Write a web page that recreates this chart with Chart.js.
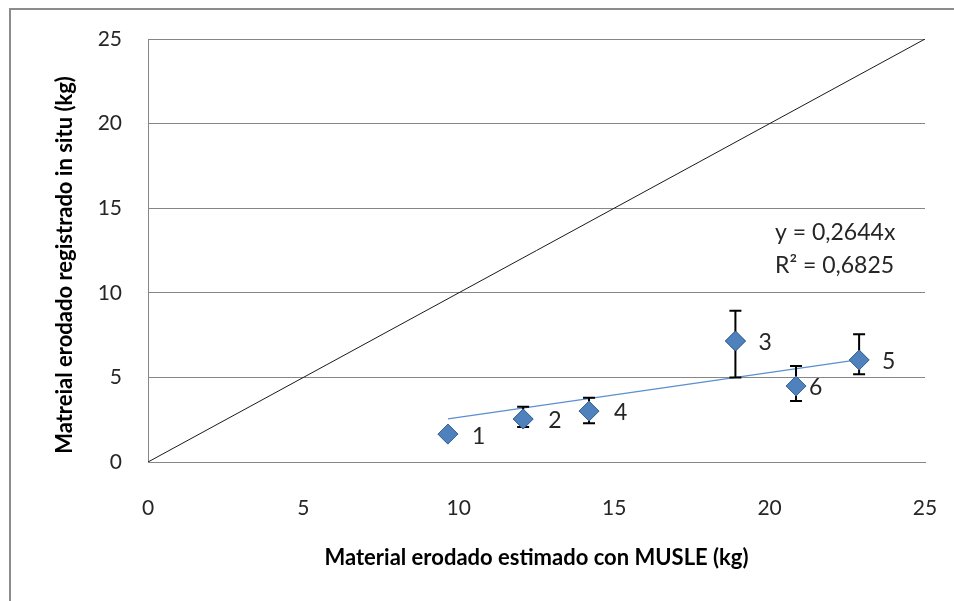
<!DOCTYPE html>
<html>
<head>
<meta charset="utf-8">
<script src="https://cdn.jsdelivr.net/npm/chart.js@4.4.1/dist/chart.umd.min.js"></script>
<style>
  html, body { margin: 0; padding: 0; background: #fff; }
  #wrap { position: relative; width: 954px; height: 601px; overflow: hidden; }
  #frame { position: absolute; left: 9px; top: 8px; width: 1000px; height: 700px; border: 2px solid #8c8c8c; box-sizing: border-box; pointer-events: none; }
  canvas { position: absolute; left: 0; top: 0; }
</style>
</head>
<body>
<div id="wrap">
  <canvas id="c" width="954" height="601"></canvas>
  <div id="frame"></div>
</div>
<script>
// Data
const pointLabels = ["1", "2", "3", "4", "5", "6"];
const musleX      = [9.65, 12.07, 18.9, 14.19, 22.88, 20.85];
const inSituY     = [1.65, 2.54, 7.15, 3.01, 6.03, 4.49];
const errLow      = [1.65, 2.07, 5.0, 2.29, 5.18, 3.6];
const errHigh     = [1.65, 3.27, 8.94, 3.8, 7.55, 5.67];
const trendX      = [9.65, 22.88];
const trendY      = [2.55, 6.05];
const diagX       = [0, 25];
const diagY       = [0, 25];
const axisTicks   = [0, 5, 10, 15, 20, 25];
const equationText = ["y = 0,2644x", "R\u00B2 = 0,6825"];
const xTitle = "Material erodado estimado con MUSLE (kg)";
const yTitle = "Matreial erodado registrado in situ (kg)";

const FONT = "Lato, 'Open Sans', sans-serif";

const toXY = (xs, ys) => xs.map((x, i) => ({ x: x, y: ys[i] }));

const overlay = {
  id: 'overlay',
  afterDatasetsDraw(chart) {
    const ctx = chart.ctx;
    const xs = chart.scales.x, ys = chart.scales.y;
    ctx.save();
    ctx.strokeStyle = '#000';
    ctx.lineWidth = 2;
    musleX.forEach((x, i) => {
      if (errHigh[i] - errLow[i] <= 0) return;
      const px = xs.getPixelForValue(x);
      const pLo = ys.getPixelForValue(errLow[i]);
      const pHi = ys.getPixelForValue(errHigh[i]);
      ctx.beginPath();
      ctx.moveTo(px, pLo); ctx.lineTo(px, pHi);
      ctx.moveTo(px - 6, pLo); ctx.lineTo(px + 6, pLo);
      ctx.moveTo(px - 6, pHi); ctx.lineTo(px + 6, pHi);
      ctx.stroke();
    });
    ctx.restore();
  },
  afterDraw(chart) {
    const ctx = chart.ctx;
    const xs = chart.scales.x, ys = chart.scales.y;
    const meta = chart.getDatasetMeta(2);
    meta.data.forEach(el => el.draw(ctx, chart.chartArea));
    ctx.save();
    ctx.fillStyle = '#262626';
    ctx.font = "23px " + FONT;
    ctx.textBaseline = 'middle';
    ctx.textAlign = 'left';
    const offs = [24, 25, 23, 25, 23, 13];
    musleX.forEach((x, i) => {
      const px = xs.getPixelForValue(x);
      const py = ys.getPixelForValue(inSituY[i]);
      ctx.fillText(pointLabels[i], px + offs[i], py + 2);
    });
    ctx.fillText(equationText[0], 775, 233);
    ctx.fillText(equationText[1], 775, 266);
    ctx.fillStyle = '#000';
    ctx.font = "bold 22px " + FONT;
    ctx.textAlign = 'center';
    ctx.fillText(xTitle, (chart.chartArea.left + chart.chartArea.right) / 2, 558);
    ctx.translate(65, 265);
    ctx.rotate(-Math.PI / 2);
    ctx.fillText(yTitle, 0, 0);
    ctx.restore();
  }
};

new Chart(document.getElementById('c'), {
  type: 'scatter',
  data: {
    datasets: [
      {
        label: '1:1',
        data: toXY(diagX, diagY),
        showLine: true,
        borderColor: '#1a1a1a',
        borderWidth: 1,
        pointRadius: 0,
        fill: false
      },
      {
        label: 'Tendencia',
        data: toXY(trendX, trendY),
        showLine: true,
        borderColor: '#5b8fd0',
        borderWidth: 1.2,
        pointRadius: 0,
        fill: false
      },
      {
        label: 'Parcelas',
        data: toXY(musleX, inSituY),
        showLine: false,
        pointStyle: 'rectRot',
        pointRadius: 10,
        backgroundColor: '#4f81bd',
        borderColor: '#3b669a',
        borderWidth: 1
      }
    ]
  },
  options: {
    responsive: false,
    animation: false,
    devicePixelRatio: 1,
    layout: { padding: { left: 0, right: 29, top: 39, bottom: 0 } },
    plugins: {
      legend: { display: false },
      tooltip: { enabled: false }
    },
    scales: {
      x: {
        type: 'linear',
        min: 0, max: 25,
        afterFit(s) { s.height = 139; s.paddingLeft = 0; s.paddingRight = 0; },
        afterBuildTicks(s) { s.ticks = axisTicks.map(v => ({ value: v })); },
        grid: { display: false, drawTicks: false },
        border: { display: true, color: '#868686', width: 1 },
        ticks: { padding: 34, color: '#262626', font: { family: FONT, size: 21 } }
      },
      y: {
        type: 'linear',
        min: 0, max: 25,
        afterFit(s) { s.width = 148; s.paddingTop = 0; s.paddingBottom = 0; },
        afterBuildTicks(s) { s.ticks = axisTicks.map(v => ({ value: v })); },
        grid: { display: true, color: '#868686', lineWidth: 1, drawTicks: false },
        border: { display: true, color: '#868686', width: 1 },
        ticks: { padding: 26, color: '#262626', font: { family: FONT, size: 21 } }
      }
    }
  },
  plugins: [overlay]
});
</script>
</body>
</html>
